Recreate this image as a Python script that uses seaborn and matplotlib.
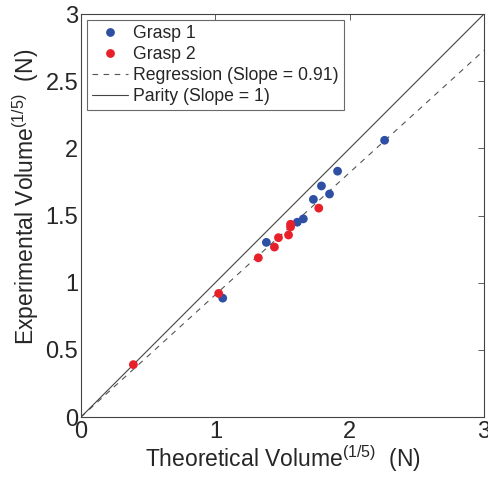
import numpy as np
import pandas as pd
import matplotlib
matplotlib.use('Agg')
import matplotlib.pyplot as plt
import seaborn as sns

# data
grasp1_x = [2.26, 1.91, 1.79, 1.85, 1.73, 1.655, 1.61, 1.38, 1.055]
grasp1_y = [2.06, 1.83, 1.72, 1.66, 1.62, 1.475, 1.45, 1.30, 0.885]
grasp2_x = [1.77, 1.56, 1.56, 1.545, 1.47, 1.44, 1.32, 1.025, 0.39]
grasp2_y = [1.555, 1.435, 1.415, 1.355, 1.335, 1.265, 1.185, 0.92, 0.39]
line_x = [0, 3]
reg_slope = 0.91
parity_slope = 1

sns.set_style('white')
plt.rcParams['font.family'] = ['Liberation Sans', 'DejaVu Sans']
plt.rcParams['mathtext.fontset'] = 'custom'
plt.rcParams['mathtext.rm'] = 'Liberation Sans'
plt.rcParams['mathtext.it'] = 'Liberation Sans'

df = pd.DataFrame({
    'x': grasp1_x + grasp2_x,
    'y': grasp1_y + grasp2_y,
    'grasp': ['Grasp 1'] * len(grasp1_x) + ['Grasp 2'] * len(grasp2_x),
})

fig = plt.figure(figsize=(4.89, 4.78), dpi=100)
ax = fig.add_axes([0.1656, 0.1276, 0.8242, 0.8431])

sns.scatterplot(data=df, x='x', y='y', hue='grasp',
                palette={'Grasp 1': '#2E4FA3', 'Grasp 2': '#E8202A'},
                s=40, edgecolor='none', ax=ax, zorder=3)

lx = np.array(line_x)
ax.plot(lx, reg_slope * lx, linestyle=(0, (5, 5)), color='#555555', lw=0.8,
        label='Regression (Slope = 0.91)')
ax.plot(lx, parity_slope * lx, linestyle='-', color='#444444', lw=0.8,
        label='Parity (Slope = 1)')

ax.set_xlim(0, 3)
ax.set_ylim(0, 3)
ax.set_xticks([0, 1, 2, 3])
ax.set_yticks([0, 0.5, 1, 1.5, 2, 2.5, 3])
ax.set_yticklabels(['0', '0.5', '1', '1.5', '2', '2.5', '3'])
ax.tick_params(direction='in', length=4, width=0.6, top=True, right=True,
               labelsize=17, color='#444444')
ax.tick_params(axis='x', pad=3)
ax.tick_params(axis='y', pad=2)
for sp in ax.spines.values():
    sp.set_color('#444444')
    sp.set_linewidth(0.8)

ax.set_xlabel(r'Theoretical Volume$^{(1/5)}$  (N)', fontsize=16.5, labelpad=0)
ax.set_ylabel(r'Experimental Volume$^{(1/5)}$  (N)', fontsize=16.5)
ax.yaxis.set_label_coords(-0.1, 0.545)

handles, labels = ax.get_legend_handles_labels()
leg = ax.legend(handles, labels, loc='upper left', fontsize=12.7, frameon=True,
                fancybox=False, edgecolor='#444444', borderpad=0.3,
                handlelength=2.0, handletextpad=0.3, labelspacing=0.22,
                borderaxespad=0.35)
leg.get_frame().set_linewidth(0.8)

fig.savefig('out.png', dpi=100)
